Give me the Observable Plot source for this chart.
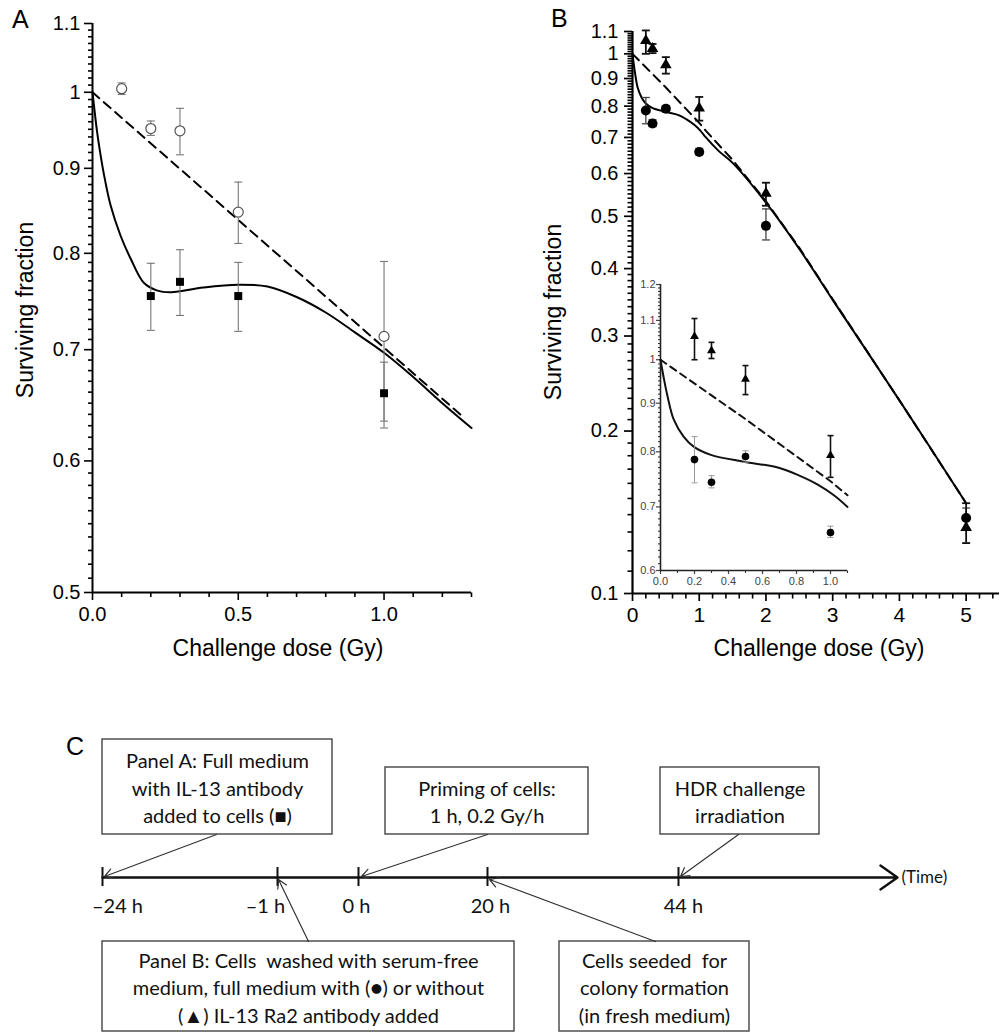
<!DOCTYPE html>
<html><head><meta charset="utf-8">
<script src="https://cdn.jsdelivr.net/npm/d3@7"></script>
<script src="https://cdn.jsdelivr.net/npm/@observablehq/plot@0.6"></script>
<style>
body{margin:0;background:#fff;}
#fig{position:relative;width:1000px;height:1033px;overflow:hidden;font-family:"Liberation Sans",Arial,sans-serif;color:#000;}
.lab{position:absolute;white-space:nowrap;line-height:1;}
.panel{font-size:25px;}
.xt{font-size:23px;transform:translate(-50%,-50%);}
.yt{font-size:23px;transform:translate(-50%,-50%) rotate(-90deg);}
</style></head><body><div id="fig"></div>
<script>
// ---------- Panel A data ----------
const doseA_ctrl = [0.1, 0.2, 0.3, 0.5, 1.0];
const sfA_ctrl   = [1.005, 0.951, 0.948, 0.847, 0.713];
const loA_ctrl   = [0.997, 0.942, 0.917, 0.811, 0.628];
const hiA_ctrl   = [1.013, 0.961, 0.978, 0.883, 0.791];
const doseA_ab = [0.2, 0.3, 0.5, 1.0];
const sfA_ab   = [0.754, 0.769, 0.754, 0.659];
const loA_ab   = [0.719, 0.734, 0.718, 0.634];
const hiA_ab   = [0.789, 0.804, 0.790, 0.688];
const fitA_dose = [0, 0.016, 0.028, 0.04, 0.062, 0.096, 0.131, 0.176, 0.22, 0.27, 0.38, 0.5, 0.6, 0.7, 0.8, 0.9, 1.0, 1.1, 1.2, 1.3];
const fitA_sf   = [1.0, 0.946, 0.916, 0.891, 0.855, 0.820, 0.794, 0.768, 0.760, 0.758, 0.763, 0.766, 0.764, 0.753, 0.737, 0.717, 0.697, 0.674, 0.650, 0.628];
const linA_dose = [0, 1.27];
const linA_sf   = [1.0, 0.638];
const xMajorA = [0, 0.5, 1.0];
const xLabelsA = ["0.0", "0.5", "1.0"];
const yMajorA = [0.5, 0.6, 0.7, 0.8, 0.9, 1.0, 1.1];
const yLabelsA = ["0.5", "0.6", "0.7", "0.8", "0.9", "1", "1.1"];

// ---------- Panel B data ----------
const doseB = [0.2, 0.3, 0.5, 1.0, 2.0, 5.0];
const sfB_tri  = [1.058, 1.022, 0.954, 0.793, 0.551, 0.1325];
const loB_tri  = [1.0, 1.003, 0.919, 0.752, 0.523, 0.124];
const hiB_tri  = [1.105, 1.043, 0.986, 0.832, 0.577, 0.147];
const sfB_circ = [0.785, 0.743, 0.791, 0.658, 0.480, 0.138];
const loB_circ = [0.742, 0.733, 0.780, 0.650, 0.452, 0.132];
const hiB_circ = [0.830, 0.755, 0.802, 0.668, 0.516, 0.144];
const fitB_dose = [0, 0.02, 0.041, 0.077, 0.136, 0.195, 0.296, 0.49, 0.69, 0.81, 0.93, 1.02, 1.1, 1.29, 1.5, 2.0, 2.5, 3.0, 4.0, 5.0];
const fitB_sf   = [1.0, 0.955, 0.916, 0.866, 0.830, 0.810, 0.794, 0.781, 0.770, 0.756, 0.738, 0.72, 0.70, 0.661, 0.628, 0.53, 0.435, 0.35, 0.228, 0.147];
const linB_dose = [0, 0.5, 1.0, 1.1, 1.5, 2.0, 2.5, 3.0, 4.0, 5.0];
const linB_sf   = [1.0, 0.866, 0.745, 0.72, 0.636, 0.533, 0.437, 0.351, 0.228, 0.147];
const xMajorB = [0, 1, 2, 3, 4, 5];
const xLabelsB = ["0", "1", "2", "3", "4", "5"];
const yMajorB = [0.1, 0.2, 0.3, 0.4, 0.5, 0.6, 0.7, 0.8, 0.9, 1.0, 1.1];
const yLabelsB = ["0.1", "0.2", "0.3", "0.4", "0.5", "0.6", "0.7", "0.8", "0.9", "1", "1.1"];
const xMajorI = [0, 0.2, 0.4, 0.6, 0.8, 1.0];
const xLabelsI = ["0.0", "0.2", "0.4", "0.6", "0.8", "1.0"];
const yMajorI = [0.6, 0.7, 0.8, 0.9, 1.0, 1.1, 1.2];
const yLabelsI = ["0.6", "0.7", "0.8", "0.9", "1", "1.1", "1.2"];

// ---------- Panel C text ----------
const boxTexts = [
  "Panel A: Full medium\nwith IL-13 antibody\nadded to cells (\u25A0)",
  "Priming of cells:\n1 h, 0.2 Gy/h",
  "HDR challenge\nirradiation",
  "Panel B: Cells  washed with serum-free\nmedium, full medium with (\u25CF) or without\n(\u25B2) IL-13 Ra2 antibody added",
  "Cells seeded  for\ncolony formation\n(in fresh medium)"
];
const timeLabels = ["\u201324 h", "\u20131 h", "0 h", "20 h", "44 h"];

// ---------- helpers ----------
const fig = document.getElementById("fig");
const font = "'Liberation Sans', Arial, sans-serif";
const len = size => Math.sqrt(size / Math.PI);
const cap = {draw(ctx, size) { const r = len(size); ctx.moveTo(-r, 0); ctx.lineTo(r, 0); }};
const tickLeft = {draw(ctx, size) { const r = len(size); ctx.moveTo(-r, 0); ctx.lineTo(0, 0); }};
const tickDown = {draw(ctx, size) { const r = len(size); ctx.moveTo(0, 0); ctx.lineTo(0, r); }};
const zip = (d, s, lo, hi) => d.map((x, i) => ({dose: x, sf: s[i], lo: lo ? lo[i] : null, hi: hi ? hi[i] : null}));
const fmt = (vals, labs) => v => labs[vals.indexOf(v)] ?? "";
const minor = (a, b, step, skip) => d3.range(Math.round(a / step), Math.round(b / step) + 1).map(i => +(i * step).toFixed(4)).filter(v => !skip.some(m => Math.abs(m - v) < 1e-9));
function place(el, left, top) { el.style.position = "absolute"; el.style.left = left + "px"; el.style.top = top + "px"; fig.appendChild(el); }
function label(text, cls, x, y) { const d = document.createElement("div"); d.className = "lab " + cls; d.textContent = text; d.style.left = x + "px"; d.style.top = y + "px"; fig.appendChild(d); }
function errMarks(data, color, w, r) {
  return [
    Plot.ruleX(data, {x: "dose", y1: "lo", y2: "hi", stroke: color, strokeWidth: w}),
    Plot.dot(data, {x: "dose", y: "lo", symbol: cap, r, fill: "none", stroke: color, strokeWidth: w}),
    Plot.dot(data, {x: "dose", y: "hi", symbol: cap, r, fill: "none", stroke: color, strokeWidth: w})
  ];
}
// minor ticks drawn as dot marks with a tick-shaped symbol at the axis origin
function minorTicks(yVals, xVals, x0, y0, r, w, color = "black") {
  return [
    Plot.dot(yVals, {x: () => x0, y: d => d, symbol: tickLeft, r, fill: "none", stroke: color, strokeWidth: w}),
    Plot.dot(xVals, {x: d => d, y: () => y0, symbol: tickDown, r, fill: "none", stroke: color, strokeWidth: w})
  ];
}

// ---------- Panel A ----------
const ctrlA = zip(doseA_ctrl, sfA_ctrl, loA_ctrl, hiA_ctrl);
const abA = zip(doseA_ab, sfA_ab, loA_ab, hiA_ab);
const plotA = Plot.plot({
  width: 490, height: 665, marginLeft: 92, marginRight: 19, marginTop: 23, marginBottom: 73,
  x: {domain: [0, 1.3], label: null},
  y: {type: "log", domain: [0.5, 1.1], label: null},
  style: {fontFamily: font, fontSize: "20px", color: "#000", background: "transparent", overflow: "visible"},
  marks: [
    Plot.axisY({ticks: yMajorA, tickSize: 8, tickPadding: 4, tickFormat: fmt(yMajorA, yLabelsA), strokeWidth: 1.6, fontSize: 20, label: null}),
    Plot.axisX({ticks: xMajorA, tickSize: 8, tickPadding: 6, tickFormat: fmt(xMajorA, xLabelsA), strokeWidth: 1.6, fontSize: 20, label: null}),
    Plot.ruleX([0], {strokeWidth: 2}),
    Plot.ruleY([0.5], {strokeWidth: 2}),
    Plot.line(zip(linA_dose, linA_sf), {x: "dose", y: "sf", strokeWidth: 2, strokeDasharray: "9,6"}),
    Plot.line(zip(fitA_dose, fitA_sf), {x: "dose", y: "sf", strokeWidth: 2, curve: "catmull-rom"}),
    ...errMarks(ctrlA, "#777", 1.1, 4),
    ...errMarks(abA, "#777", 1.1, 4),
    Plot.dot(ctrlA, {x: "dose", y: "sf", r: 5, fill: "white", stroke: "#555", strokeWidth: 1.2}),
    Plot.dot(abA, {x: "dose", y: "sf", r: 4.5, symbol: "square", fill: "black"}),
    ...minorTicks(minor(0.5, 1.1, 0.01, yMajorA), minor(0, 1.3, 0.1, xMajorA), 0, 0.5, 4.5, 1.6)
  ]
});
place(plotA, 0, 0);

// ---------- Panel B ----------
const triB = zip(doseB, sfB_tri, loB_tri, hiB_tri);
const circB = zip(doseB, sfB_circ, loB_circ, hiB_circ);
const plotB = Plot.plot({
  width: 500, height: 665, marginLeft: 132, marginRight: 1, marginTop: 31, marginBottom: 72,
  x: {domain: [0, 5.5], label: null},
  y: {type: "log", domain: [0.1, 1.1], label: null},
  style: {fontFamily: font, fontSize: "20px", color: "#000", background: "transparent", overflow: "visible"},
  marks: [
    Plot.axisY({ticks: yMajorB, tickSize: 8, tickPadding: 6, tickFormat: fmt(yMajorB, yLabelsB), strokeWidth: 1.7, fontSize: 20, label: null}),
    Plot.axisX({ticks: xMajorB, tickSize: 8, tickPadding: 6, tickFormat: fmt(xMajorB, xLabelsB), strokeWidth: 1.7, fontSize: 21, label: null}),
    Plot.ruleX([0], {strokeWidth: 2.2}),
    Plot.ruleY([0.1], {strokeWidth: 2.2}),
    Plot.line(zip(linB_dose, linB_sf), {x: "dose", y: "sf", strokeWidth: 2, strokeDasharray: "9,6"}),
    Plot.line(zip(fitB_dose, fitB_sf), {x: "dose", y: "sf", strokeWidth: 2, curve: "catmull-rom"}),
    ...errMarks(circB, "#444", 1.3, 4),
    ...errMarks(triB, "#111", 1.8, 4),
    Plot.dot(circB, {x: "dose", y: "sf", r: 5, fill: "black"}),
    Plot.dot(triB, {x: "dose", y: "sf", r: 4.3, symbol: "triangle", fill: "black"}),
    ...minorTicks(minor(0.1, 1.1, 0.01, yMajorB), minor(0, 5.4, 0.2, xMajorB), 0, 0.1, 5, 1.6)
  ]
});
place(plotB, 500, 0);

// ---------- Inset ----------
const inRange = d => d.dose <= 1.1;
const plotI = Plot.plot({
  width: 260, height: 330, marginLeft: 60, marginRight: 13, marginTop: 14, marginBottom: 30,
  x: {domain: [0, 1.1], label: null},
  y: {type: "log", domain: [0.6, 1.2], label: null},
  style: {fontFamily: font, fontSize: "11px", color: "#444", background: "transparent", overflow: "visible"},
  marks: [
    Plot.axisY({ticks: yMajorI, tickSize: 4, tickPadding: 1, tickFormat: fmt(yMajorI, yLabelsI), strokeWidth: 1.2, fontSize: 11, label: null}),
    Plot.axisX({ticks: xMajorI, tickSize: 4, tickPadding: 3, tickFormat: fmt(xMajorI, xLabelsI), strokeWidth: 1.2, fontSize: 11, label: null}),
    Plot.ruleX([0], {stroke: "#222", strokeWidth: 1.6}),
    Plot.ruleY([0.6], {stroke: "#222", strokeWidth: 1.6}),
    Plot.line(zip(linB_dose, linB_sf).filter(inRange), {x: "dose", y: "sf", stroke: "#111", strokeWidth: 2, strokeDasharray: "7,5"}),
    Plot.line(zip(fitB_dose, fitB_sf).filter(inRange), {x: "dose", y: "sf", stroke: "#111", strokeWidth: 2, curve: "catmull-rom"}),
    ...errMarks(circB.filter(inRange), "#999", 1, 3),
    ...errMarks(triB.filter(inRange), "#111", 1.6, 3),
    Plot.dot(circB.filter(inRange), {x: "dose", y: "sf", r: 3.8, fill: "black"}),
    Plot.dot(triB.filter(inRange), {x: "dose", y: "sf", r: 3.3, symbol: "triangle", fill: "black"}),
    ...minorTicks(minor(0.6, 1.2, 0.01, yMajorI), minor(0, 1.1, 0.1, xMajorI), 0, 0.6, 2.5, 1.1, "#333")
  ]
});
place(plotI, 600, 270);

// ---------- labels A / B ----------
label("A", "panel", 12, 7);
label("B", "panel", 551, 6);
label("Challenge dose (Gy)", "xt", 278, 648);
label("Challenge dose (Gy)", "xt", 819, 648);
label("Surviving fraction", "yt", 25, 310);
label("Surviving fraction", "yt", 553, 312);
label("C", "panel", 66, 734);

// ---------- Panel C (schematic, layout in page pixels) ----------
const boxLayout = [[102, 739, 332, 834], [385, 767, 588, 834], [660, 767, 819, 834], [102, 941, 514, 1031], [559, 941, 749, 1031]];
const boxes = boxTexts.map((t, i) => ({text: t, x1: boxLayout[i][0], y1: boxLayout[i][1], x2: boxLayout[i][2], y2: boxLayout[i][3]}));
const tickPos = [102, 277, 358, 487, 678];
const tickLabelPos = [117, 265, 356, 490, 683];
const events = timeLabels.map((t, i) => ({t, x: tickPos[i], lx: tickLabelPos[i]}));
const arrows = [[216, 834, 104, 876], [487, 834, 361, 876], [738, 834, 680, 876], [308, 941, 278, 879], [655, 941, 489, 879]]
  .map(a => ({x1: a[0], y1: a[1], x2: a[2], y2: a[3]}));
const cFont = "Lato, 'Open Sans', sans-serif";
const plotC = Plot.plot({
  width: 1000, height: 353, margin: 0,
  x: {domain: [0, 1000], range: [0, 1000], axis: null},
  y: {domain: [680, 1033], range: [0, 353], axis: null},
  style: {fontFamily: cFont, background: "transparent", overflow: "visible", color: "#222"},
  marks: [
    Plot.rect(boxes, {x1: "x1", x2: "x2", y1: "y1", y2: "y2", fill: "white", stroke: "#444", strokeWidth: 1.4}),
    Plot.text(boxes, {x: d => (d.x1 + d.x2) / 2, y: d => (d.y1 + d.y2) / 2, text: "text", fontSize: 20, lineHeight: 1.37, fill: "#111", fontFamily: cFont}),
    Plot.arrow([{x1: 102, y1: 877, x2: 897, y2: 877}], {x1: "x1", y1: "y1", x2: "x2", y2: "y2", stroke: "#111", strokeWidth: 2.4, headLength: 13, headAngle: 70}),
    Plot.ruleX(events, {x: "x", y1: 867, y2: 886, stroke: "#111", strokeWidth: 2}),
    Plot.text(events, {x: "lx", y: 906, text: "t", fontSize: 20, fill: "#111", fontFamily: cFont}),
    Plot.text(["(Time)"], {x: 901, y: 877, text: d => d, textAnchor: "start", fontSize: 17, fill: "#111", fontFamily: cFont}),
    Plot.arrow(arrows, {x1: "x1", y1: "y1", x2: "x2", y2: "y2", stroke: "#333", strokeWidth: 1.2, headLength: 12, headAngle: 60})
  ]
});
place(plotC, 0, 680);
</script></body></html>
